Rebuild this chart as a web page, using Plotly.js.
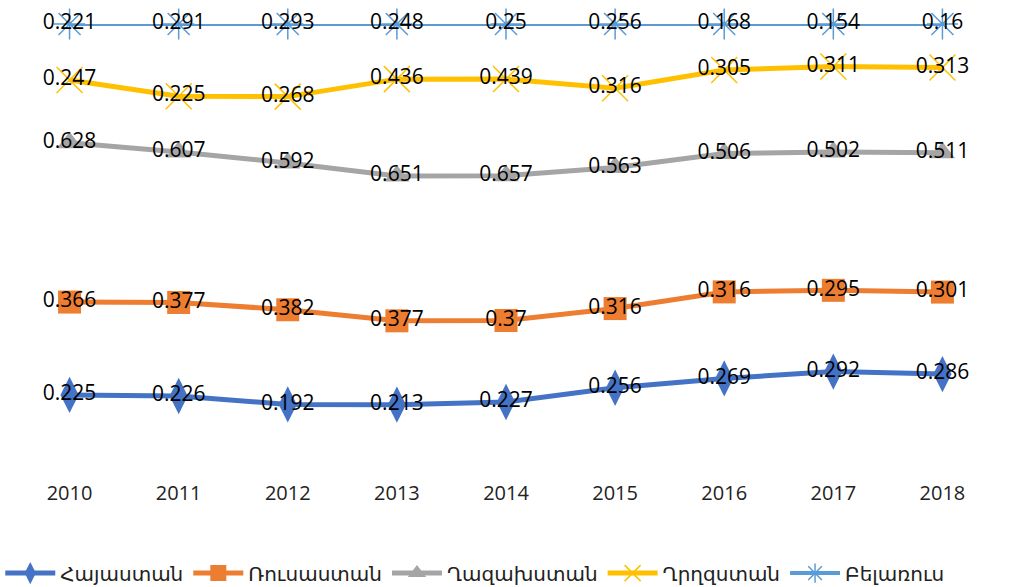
<!DOCTYPE html>
<html>
<head>
<meta charset="utf-8">
<script src="https://cdn.plot.ly/plotly-3.0.1.min.js"></script>
<style>html,body{margin:0;padding:0;background:#fff;}#chart{width:1015px;height:587px;}</style>
</head>
<body>
<div id="chart"></div>
<script>
// Data (100% stacked line chart; labels show each country's own value)
const years = ['2010','2011','2012','2013','2014','2015','2016','2017','2018'];
const seriesNames = ['Հայաստան','Ռուսաստան','Ղազախստան','Ղրղզստան','Բելառուս'];
const armenia    = [0.225,0.226,0.192,0.213,0.227,0.256,0.269,0.292,0.286];
const russia     = [0.366,0.377,0.382,0.377,0.37,0.316,0.316,0.295,0.301];
const kazakhstan = [0.628,0.607,0.592,0.651,0.657,0.563,0.506,0.502,0.511];
const kyrgyzstan = [0.247,0.225,0.268,0.436,0.439,0.316,0.305,0.311,0.313];
const belarus    = [0.221,0.291,0.293,0.248,0.25,0.256,0.168,0.154,0.16];

const seriesValues = [armenia, russia, kazakhstan, kyrgyzstan, belarus];
const colors = ['#4472C4','#ED7D31','#A5A5A5','#FFC000','#5B9BD5'];
const symbols = ['diamond-tall','square','triangle-up','x-thin-open','asterisk-open'];
const sizes = [26,23,22,26,26];
const lineWidths = [5,5,5,5,4];

const FONT = 'Open Sans, Noto Sans, DejaVu Sans, sans-serif';

const traces = seriesValues.map((vals, i) => {
  const open = symbols[i].endsWith('-open');
  return {
    x: years,
    y: vals,
    name: seriesNames[i],
    type: 'scatter',
    mode: 'lines+markers+text',
    stackgroup: 'one',
    groupnorm: i === 0 ? 'fraction' : undefined,
    fill: 'none',
    text: vals.map(v => String(v)),
    textposition: 'middle center',
    textfont: {family: FONT, size: 21, color: '#000000'},
    line: {color: colors[i], width: lineWidths[i]},
    marker: {
      symbol: symbols[i],
      size: sizes[i],
      color: colors[i],
      line: {color: colors[i], width: open ? 1.5 : 0}
    },
    cliponaxis: false,
    hoverinfo: 'skip'
  };
});

const layout = {
  width: 1015,
  height: 587,
  margin: {l: 15, r: 18, t: 24, b: 135, autoexpand: false},
  paper_bgcolor: '#ffffff',
  plot_bgcolor: '#ffffff',
  showlegend: true,
  xaxis: {
    type: 'category',
    range: [-0.5, 8.5],
    showgrid: false,
    zeroline: false,
    showline: false,
    ticks: 'outside',
    ticklen: 23,
    tickcolor: 'rgba(0,0,0,0)',
    tickfont: {family: FONT, size: 20, color: '#222222'},
    automargin: false,
    fixedrange: true
  },
  yaxis: {
    range: [0, 1],
    showgrid: false,
    zeroline: false,
    showline: false,
    showticklabels: false,
    ticks: '',
    automargin: false,
    fixedrange: true
  },
  legend: {
    orientation: 'h',
    traceorder: 'normal',
    x: -0.015,
    xanchor: 'left',
    y: -0.283,
    yanchor: 'middle',
    font: {family: FONT, size: 20, color: '#222222'},
    itemwidth: 50,
    bgcolor: 'rgba(0,0,0,0)'
  }
};

Plotly.newPlot('chart', traces, layout, {displayModeBar: false, staticPlot: true});
</script>
</body>
</html>
